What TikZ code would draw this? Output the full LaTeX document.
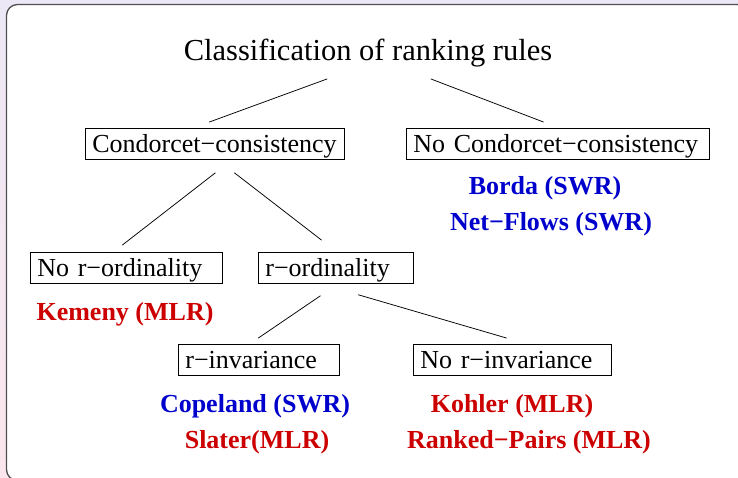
\documentclass[tikz,border=0pt]{standalone}
\usepackage{fontspec}
\setmainfont{Liberation Serif}
\usetikzlibrary{calc}
\definecolor{bgtop}{RGB}{236,232,245}
\definecolor{bgbot}{RGB}{250,230,236}
\definecolor{frame}{RGB}{80,80,84}
\definecolor{lblue}{RGB}{0,0,204}
\definecolor{lred}{RGB}{204,0,0}
\tikzset{
  box/.style={draw, line width=0.8pt, anchor=north west, inner xsep=7pt, inner ysep=0pt,
    text height=24pt, text depth=7pt, text width=#1, align=left,
    font=\fontsize{26}{30}\selectfont},
  lbl/.style={anchor=base, inner sep=0pt, font=\bfseries\fontsize{26}{30}\selectfont, text=#1},
  conn/.style={line width=0.75pt, line cap=round}
}
\begin{document}
\begin{tikzpicture}[x=1pt,y=-1pt]
\useasboundingbox (0,0) rectangle (738,478);
\shade[top color=bgtop, bottom color=bgbot] (0,0) rectangle (738,478);
\begin{scope}
\clip (0,0) rectangle (738,478);
\draw[rounded corners=11pt, draw=frame, line width=1.3pt, fill=white] (6.5,4.5) rectangle (748,480.5);
\end{scope}

\node[anchor=base, inner sep=0pt, font=\fontsize{30.5}{36}\selectfont] (t) at (368,61) {Classification of ranking rules};

\node[box=245pt] (cc) at (85,128) {Condorcet−consistency};
\node[box=289pt] (ncc) at (406,128) {No Condorcet−consistency};
\node[box=178pt] (nro) at (30,252) {No r−ordinality};
\node[box=141pt] (ro) at (258,252) {r−ordinality};
\node[box=147pt] (ri) at (178,344) {r−invariance};
\node[box=184pt] (nri) at (413,344) {No r−invariance};

\node[lbl=lblue] (borda) at (545,195) {Borda (SWR)};
\node[lbl=lblue] (netflows) at (551,230) {Net−Flows (SWR)};
\node[lbl=lred] (kemeny) at (125,320) {Kemeny (MLR)};
\node[lbl=lblue] (copeland) at (255,412) {Copeland (SWR)};
\node[lbl=lred] (slater) at (257,448) {Slater(MLR)};
\node[lbl=lred] (kohler) at (512,412) {Kohler (MLR)};
\node[lbl=lred] (ranked) at (529,448) {Ranked−Pairs (MLR)};

\draw[conn] ($(t.base)+(-41,18)$) -- ($(cc.north)+(-5.5,-6)$);
\draw[conn] ($(t.base)+(63,18)$) -- ($(ncc.north)+(-14.5,-6)$);
\draw[conn] ($(cc.south)+(0.5,13)$) -- ($(nro.north)+(-4,-7)$);
\draw[conn] ($(cc.south)+(19.5,13)$) -- ($(ro.north)+(-14.5,-12)$);
\draw[conn] ($(ro.south)+(-15.5,12)$) -- ($(ri.north)+(-0.5,-6)$);
\draw[conn] ($(ro.south)+(22.5,11)$) -- ($(nri.north)+(-6,-6)$);
\end{tikzpicture}
\end{document}
